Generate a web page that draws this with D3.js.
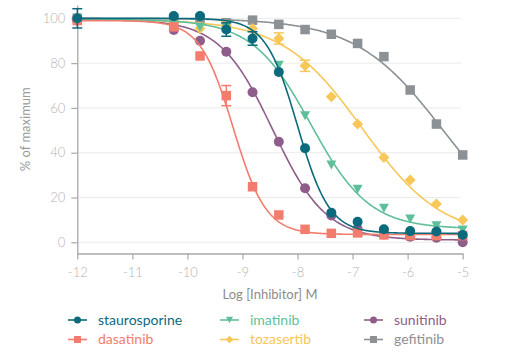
<!DOCTYPE html>
<html><head><meta charset="utf-8">
<script src="https://cdn.jsdelivr.net/npm/d3@7"></script>
<style>
body{margin:0;background:#fff;}
text{font-family:Lato,"Open Sans",sans-serif;}
</style></head>
<body><svg id="c" width="507" height="356"></svg>
<script>
// ---- data ----
const logConc = [-12, -10.248, -9.771, -9.294, -8.817, -8.340, -7.863, -7.386, -6.909, -6.431, -5.954, -5.477, -5];
const seriesNames = ["staurosporine", "dasatinib", "imatinib", "tozasertib", "sunitinib", "gefitinib"];
const seriesColors = ["#0b6b7c", "#f27d6e", "#5fbf9a", "#f7c757", "#8f5d89", "#8b9194"];
const seriesShapes = ["circle", "square", "triangle", "diamond", "circle", "square"];
const staurosporine = [100, 101, 101, 95, 91, 76, 42, 13.2, 9.2, 5.8, 5.0, 4.8, 3.3];
const dasatinib     = [99, 96.2, 83.2, 65.5, 24.8, 12.2, 5.8, 4.0, 4.2, 3.3, 3.0, 3.0, 3.0];
const imatinib      = [100, 99, 96, 96, 90, 79, 56.5, 34.5, 23.7, 15.2, 10.4, 7.4, 5.5];
const tozasertib    = [100, 98, 95.5, 97, 95.5, 91, 78.8, 65, 52.8, 37.9, 27.8, 17.1, 10];
const sunitinib     = [99, 94.8, 90, 85.1, 67, 44.9, 24.1, 12, 6, 3.5, 2.5, 2, 0];
const gefitinib     = [100, 100, 100, 98, 99.2, 97.3, 95, 92.9, 88.8, 82.9, 68, 52.8, 39];
const seriesValues = [staurosporine, dasatinib, imatinib, tozasertib, sunitinib, gefitinib];
// error bars: [series index, point index, +/- value]
const errorBars = [[0,0,4.3],[0,3,3],[0,4,3],[1,3,4.5],[3,3,1.5],[3,5,2.5],[3,6,2.5]];
// 4PL fit parameters
const fitTop    = [100, 99, 99.5, 99.5, 99.5, 100];
const fitBottom = [4, 3.5, 6, 2, 1, 0];
const fitLogIC50 = [-8.0, -9.17, -7.76, -6.82, -8.45, -5.354];
const fitHill   = [1.5, 1.45, 0.82, 0.6, 0.9, 0.547];
const xTicks = [-12, -11, -10, -9, -8, -7, -6, -5];
const yTicks = [0, 20, 40, 60, 80, 100];

const svg = d3.select("#c");
const x = d3.scaleLinear().domain([-12, -5]).range([77.3, 462.7]);
const y = d3.scaleLinear().domain([-5, 106]).range([253.5, 4.9]);

// gridlines
svg.append("g").selectAll("line").data(yTicks).join("line")
  .attr("x1", x(-12)).attr("x2", 461).attr("y1", d=>y(d)).attr("y2", d=>y(d))
  .attr("stroke", "#ebebeb").attr("stroke-width", 1);

// axes
const axisColor = "#a9a9a9", tickText = "#b4b4b4";
const gx = svg.append("g").attr("transform", `translate(0,${y(-5)})`)
  .call(d3.axisBottom(x).tickValues(xTicks).tickSize(6).tickSizeOuter(0).tickPadding(8).tickFormat(d=>d));
const gy = svg.append("g").attr("transform", `translate(${x(-12)},0)`)
  .call(d3.axisLeft(y).tickValues(yTicks).tickSize(6).tickSizeOuter(0).tickPadding(6));
[gx, gy].forEach(g => {
  g.select(".domain").attr("stroke", axisColor).attr("stroke-width", 1.3);
  g.selectAll(".tick line").attr("stroke", axisColor).attr("stroke-width", 1.2);
  g.selectAll(".tick text").attr("fill", tickText).attr("font-size", 13).attr("font-weight", 300)
    .attr("font-family", "Lato, sans-serif");
});
gx.selectAll(".tick text").text(d => d < 0 ? "-" + Math.abs(d) : d);

// axis titles
svg.append("text").attr("x", 270).attr("y", 299).attr("text-anchor", "middle")
  .attr("font-size", 13).attr("fill", "#8c8c8c").text("Log [Inhibitor] M");
svg.append("text").attr("transform", `translate(30,${(y(-5)+y(106))/2}) rotate(-90)`)
  .attr("text-anchor", "middle").attr("font-size", 13).attr("fill", "#9a9a9a").text("% of maximum");

// symbol helper
function drawMarker(g, shape, cx, cy, size, color) {
  if (shape === "circle") {
    g.append("circle").attr("cx", cx).attr("cy", cy).attr("r", size/2).attr("fill", color);
  } else if (shape === "square") {
    g.append("rect").attr("x", cx-size/2).attr("y", cy-size/2).attr("width", size).attr("height", size).attr("fill", color);
  } else if (shape === "triangle") {
    const h = size*0.9;
    g.append("path").attr("d", `M${cx-size/2},${cy-h/2}L${cx+size/2},${cy-h/2}L${cx},${cy+h/2}Z`).attr("fill", color);
  } else if (shape === "diamond") {
    const s = size*0.55;
    g.append("path").attr("d", `M${cx},${cy-s}L${cx+s},${cy}L${cx},${cy+s}L${cx-s},${cy}Z`).attr("fill", color);
  }
}

const line = d3.line().x(d=>x(d[0])).y(d=>y(d[1])).curve(d3.curveLinear);
const xs = d3.range(-12, -4.999, 0.02);
// draw in reverse so staurosporine ends on top
for (let i = seriesNames.length - 1; i >= 0; i--) {
  const g = svg.append("g");
  const col = seriesColors[i];
  const pts = xs.map(v => [v, fitBottom[i] + (fitTop[i]-fitBottom[i]) / (1 + Math.pow(10, (v - fitLogIC50[i]) * fitHill[i]))]);
  g.append("path").attr("d", line(pts)).attr("fill", "none").attr("stroke", col).attr("stroke-width", 1.6);
  errorBars.filter(e => e[0] === i).forEach(e => {
    const cx = x(logConc[e[1]]), v = seriesValues[i][e[1]];
    const y1 = y(v + e[2]), y2 = y(v - e[2]);
    g.append("line").attr("x1", cx).attr("x2", cx).attr("y1", y1).attr("y2", y2).attr("stroke", col).attr("stroke-width", 1.5);
    [y1, y2].forEach(yy => g.append("line").attr("x1", cx-5).attr("x2", cx+5).attr("y1", yy).attr("y2", yy).attr("stroke", col).attr("stroke-width", 1.5));
  });
  const sz = {circle: 10, square: 9.5, triangle: 10, diamond: 10}[seriesShapes[i]];
  seriesValues[i].forEach((v, j) => drawMarker(g, seriesShapes[i], x(logConc[j]), y(v), sz, col));
}

// legend (column-major, 2 rows)
const legX = [68, 220, 364], legY = [320, 339.5];
seriesNames.forEach((n, i) => {
  const cx = legX[Math.floor(i/2)], cy = legY[i%2];
  const g = svg.append("g");
  g.append("line").attr("x1", cx).attr("x2", cx+19).attr("y1", cy).attr("y2", cy)
    .attr("stroke", seriesColors[i]).attr("stroke-width", 1.6);
  drawMarker(g, seriesShapes[i], cx+9.5, cy, 7, seriesColors[i]);
  g.append("text").attr("x", cx+30).attr("y", cy).attr("dy", "0.35em")
    .attr("font-size", 14).attr("fill", seriesColors[i]).text(n);
});
</script></body></html>
